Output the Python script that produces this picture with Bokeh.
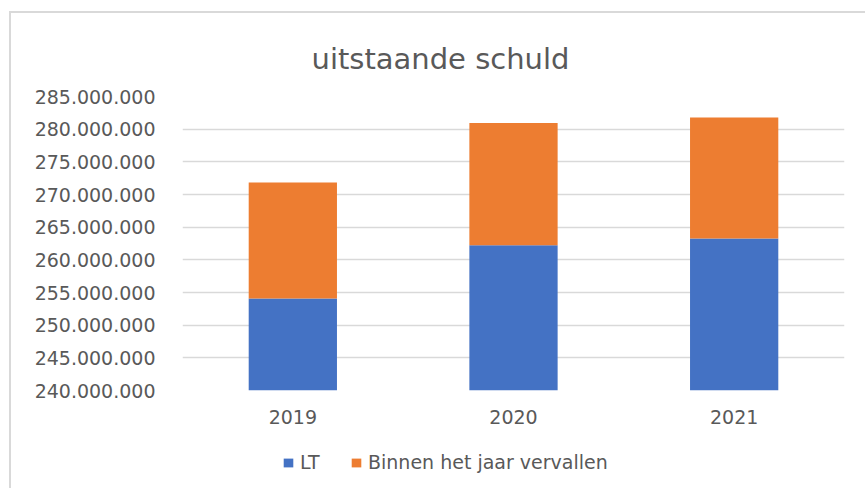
from bokeh.plotting import figure
from bokeh.layouts import column
from bokeh.models import FactorRange, Range1d, FixedTicker, CustomJSTickFormatter, Legend, LegendItem
from bokeh.embed import file_html
from bokeh.resources import INLINE

years = ["2019", "2020", "2021"]
lt = [254_100_000, 262_250_000, 263_250_000]
binnen = [17_750_000, 18_700_000, 18_550_000]
ticks = [240_000_000, 245_000_000, 250_000_000, 255_000_000, 260_000_000,
         265_000_000, 270_000_000, 275_000_000, 280_000_000, 285_000_000]
series = ["LT", "Binnen het jaar vervallen"]
colors = ["#4472C4", "#ED7D31"]

data = {"years": years, "LT": lt, "Binnen het jaar vervallen": binnen}

FONT = "DejaVu Sans"
GREY = "#595959"

p = figure(x_range=FactorRange(*years), y_range=Range1d(240_000_000, 285_000_000),
           width=854, height=422, output_backend="svg", toolbar_location=None,
           min_border_left=171, min_border_right=21, min_border_top=83, min_border_bottom=45)

rs = p.vbar_stack(series, x="years", width=0.4, color=colors, line_color=None, source=data)

p.title.text = "uitstaande schuld"
p.title.align = "left"
p.title.offset = 129
p.title.text_font = FONT
p.title.text_font_size = "29px"
p.title.text_font_style = "normal"
p.title.text_color = GREY
p.title.standoff = 42

p.yaxis.ticker = FixedTicker(ticks=ticks)
p.yaxis.formatter = CustomJSTickFormatter(code="""
return tick.toFixed(0).replace(/\\B(?=(\\d{3})+(?!\\d))/g, ".");
""")
for ax in (p.xaxis, p.yaxis):
    ax.axis_line_color = None
    ax.major_tick_line_color = None
    ax.minor_tick_line_color = None
    ax.major_label_text_font = FONT
    ax.major_label_text_font_size = "19px"
    ax.major_label_text_color = GREY
p.yaxis.major_label_standoff = 21
p.xaxis.major_label_standoff = 13

p.xgrid.grid_line_color = None
p.ygrid.grid_line_color = "#d9d9d9"
p.ygrid.grid_line_width = 1.5
p.outline_line_color = None

# legend strip below the chart (its renderers are hidden; only the legend shows)
lf = figure(x_range=FactorRange(*years), y_range=Range1d(240_000_000, 285_000_000),
            width=854, height=53, output_backend="svg", toolbar_location=None,
            min_border_left=171, min_border_right=21, min_border_top=0, min_border_bottom=0)
lf.axis.visible = False
lf.grid.visible = False
lf.outline_line_color = None
lrs = lf.vbar_stack(series, x="years", width=0.4, color=colors, line_color=None, source=data)
for r in lrs:
    r.visible = False

legend = Legend(items=[LegendItem(label=s, renderers=[r]) for s, r in zip(series, lrs)],
                orientation="horizontal", location=(100, 15))
legend.label_text_font = FONT
legend.label_text_font_size = "19px"
legend.label_text_color = GREY
legend.glyph_width = 12
legend.glyph_height = 11
legend.label_standoff = 6
legend.spacing = 30
legend.border_line_color = None
legend.background_fill_alpha = 0
legend.inactive_fill_alpha = 0
legend.padding = 0
legend.margin = 0
lf.add_layout(legend, "center")

layout = column(p, lf, spacing=0)
layout.styles = {"border-left": "2px solid #d9d9d9", "border-top": "2px solid #d9d9d9",
                 "margin-left": "9px", "margin-top": "11px"}

open("out.html", "w").write(file_html(layout, INLINE))
